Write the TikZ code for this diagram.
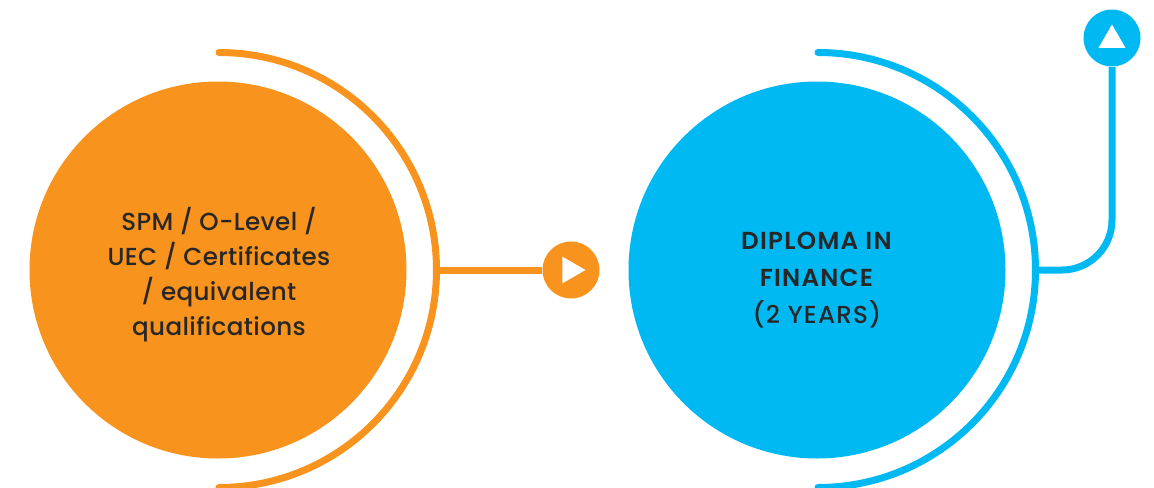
\documentclass[tikz,border=0pt]{standalone}
\usepackage{fontspec}
\setmainfont{Poppins Medium}[BoldFont=Poppins SemiBold,LetterSpace=1.5]
\usetikzlibrary{shapes.geometric}
\definecolor{orangefill}{HTML}{F8931D}
\definecolor{bluefill}{HTML}{00B9F2}
\definecolor{textdark}{HTML}{272727}
\tikzset{
  bigdisc/.style={circle,minimum size=3.77cm,inner sep=0pt},
  smalldisc/.style={circle,minimum size=0.57cm,inner sep=0pt},
  tip/.style={regular polygon,regular polygon sides=3,fill=white,inner sep=0pt,minimum size=0.31cm},
  wire/.style={line width=0.07cm},
  caption/.style={align=center,text=textdark,inner sep=0pt,font=\fontsize{7}{9.95}\selectfont}
}
\begin{document}
\begin{tikzpicture}
\useasboundingbox (0,0) rectangle (11.54,4.87);
\node[bigdisc,fill=orangefill] (sourcedisc) at (2.18,2.17) {};
\node[bigdisc,fill=bluefill] (diplomadisc) at (8.17,2.17) {};
\node[caption] (sourcetext) at (2.19,2.12) {SPM / O-Level /\\UEC / Certificates\\/ equivalent\\qualifications};
\node[caption,font=\fontsize{7}{10.5}\selectfont\addfontfeatures{LetterSpace=5}] (diplomatext) at (8.17,2.07) {\textbf{DIPLOMA IN}\\\textbf{FINANCE}\\(2 YEARS)};

\draw[wire,orangefill,line cap=round] (2.19,4.345) arc (90:-90:2.175);
\draw[wire,bluefill,line cap=round] (8.18,4.345) arc (90:-90:2.175);

\node[smalldisc,fill=orangefill] (nextdot) at (5.71,2.17) {};
\node[smalldisc,fill=bluefill] (updot) at (11.12,4.49) {};
\node[tip,rotate=-90] (nexttip) at (5.70,2.17) {};
\node[tip] (uptip) at (11.12,4.47) {};

\coordinate (sourceout) at (4.36,2.17);
\coordinate (diplomaout) at (10.36,2.17);
\draw[wire,orangefill] (sourceout) -- (nextdot);
\draw[wire,bluefill,rounded corners=0.5cm] (diplomaout) -| (updot);
\end{tikzpicture}
\end{document}
